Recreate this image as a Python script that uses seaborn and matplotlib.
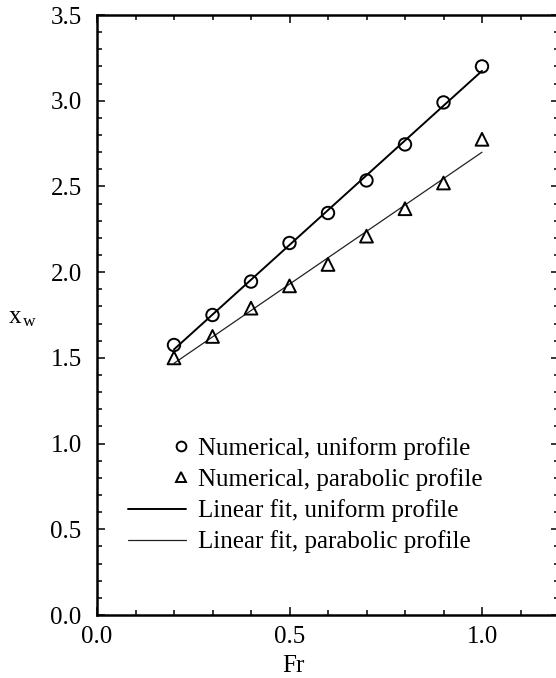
import numpy as np
import pandas as pd
import matplotlib
matplotlib.use("Agg")
import matplotlib.pyplot as plt
from matplotlib.lines import Line2D
from matplotlib.legend_handler import HandlerLine2D
from matplotlib.ticker import MultipleLocator, FormatStrFormatter
import seaborn as sns

# Wake position x_w versus Froude number for two inflow profiles
fr = [0.2, 0.3, 0.4, 0.5, 0.6, 0.7, 0.8, 0.9, 1.0]
xw_uniform = [1.575, 1.75, 1.945, 2.17, 2.345, 2.535, 2.745, 2.99, 3.20]
xw_parabolic = [1.50, 1.625, 1.79, 1.92, 2.045, 2.21, 2.37, 2.52, 2.775]

labels = ["Numerical, uniform profile", "Numerical, parabolic profile",
          "Linear fit, uniform profile", "Linear fit, parabolic profile"]

df = pd.DataFrame({"Fr": fr, "uniform": xw_uniform, "parabolic": xw_parabolic})

sns.set_theme(style="ticks")
plt.rcParams["font.family"] = ["Liberation Serif", "DejaVu Serif"]
plt.rcParams["mathtext.fontset"] = "custom"
plt.rcParams["mathtext.rm"] = "Liberation Serif"
plt.rcParams["mathtext.it"] = "Liberation Serif"

FS = 18
fig = plt.figure(figsize=(5.56, 6.78), dpi=100)
ax = fig.add_axes([97 / 556, 63 / 678, 462 / 556, 600 / 678])

# linear fits
sns.regplot(data=df, x="Fr", y="uniform", scatter=False, ci=None, truncate=True,
            color="black", line_kws=dict(lw=1.4), ax=ax)
sns.regplot(data=df, x="Fr", y="parabolic", scatter=False, ci=None, truncate=True,
            color="#222222", line_kws=dict(lw=0.9), ax=ax)

# numerical points
sns.scatterplot(data=df, x="Fr", y="uniform", marker="o", s=80,
                facecolor="none", edgecolor="black", linewidth=1.4, ax=ax, zorder=3)
sns.scatterplot(data=df, x="Fr", y="parabolic", marker="^", s=85,
                facecolor="none", edgecolor="black", linewidth=1.4, ax=ax, zorder=3)

ax.set_xlim(0, 1.2)
ax.set_ylim(0, 3.5)
ax.xaxis.set_major_locator(MultipleLocator(0.5))
ax.xaxis.set_minor_locator(MultipleLocator(0.1))
ax.yaxis.set_major_locator(MultipleLocator(0.5))
ax.yaxis.set_minor_locator(MultipleLocator(0.1))
ax.xaxis.set_major_formatter(FormatStrFormatter("%.1f"))
ax.yaxis.set_major_formatter(FormatStrFormatter("%.1f"))
ax.set_xticks([0.0, 0.5, 1.0])

ax.tick_params(which="both", direction="in", top=True, right=True,
               labelsize=FS, colors="black", width=1.1)
ax.tick_params(axis="x", which="major", length=6, pad=8)
ax.tick_params(axis="y", which="major", length=6, pad=11)
ax.tick_params(which="minor", length=3.5)
for sp in ax.spines.values():
    sp.set_linewidth(1.8)
    sp.set_color("black")
    sp.set_visible(True)

ax.set_xlabel("Fr", fontsize=FS, color="black")
ax.xaxis.set_label_coords(0.425, -0.066)
ax.set_ylabel(r"$\mathrm{x}_{\,\mathrm{w}}$", fontsize=FS, rotation=0,
              color="black", va="center", ha="center")
ax.yaxis.set_label_coords(-0.16, 0.495)


class EndMarkerHandler(HandlerLine2D):
    """Single legend marker drawn near the right end of the handle box."""

    def get_xdata(self, legend, xdescent, ydescent, width, height, fontsize):
        xdata, _ = super().get_xdata(legend, xdescent, ydescent, width, height, fontsize)
        xm = -xdescent + 0.93 * width
        return np.array([xm, xm]), np.array([xm])


h_circ = Line2D([], [], ls="none", marker="o", ms=7, mfc="none", mec="black", mew=1.4)
h_tri = Line2D([], [], ls="none", marker="^", ms=7.5, mfc="none", mec="black", mew=1.4)
h_fit_u = Line2D([], [], color="black", lw=1.4)
h_fit_p = Line2D([], [], color="#222222", lw=0.9)

leg = ax.legend([h_circ, h_tri, h_fit_u, h_fit_p], labels,
                handler_map={h_circ: EndMarkerHandler(), h_tri: EndMarkerHandler()},
                loc="upper left", bbox_to_anchor=(31 / 462, 0.297),
                frameon=False, fontsize=FS, handlelength=2.3, handletextpad=0.5,
                labelspacing=0.33, borderpad=0, borderaxespad=0, numpoints=1)
for t in leg.get_texts():
    t.set_color("black")

fig.savefig("out.png", dpi=100)
